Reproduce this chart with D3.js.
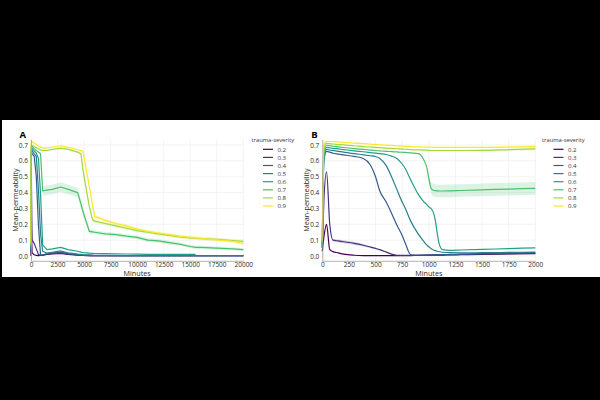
<!DOCTYPE html>
<html>
<head>
<meta charset="utf-8">
<script src="https://cdn.jsdelivr.net/npm/d3@7"></script>
<style>
body { margin: 0; background: #000; }
svg { display: block; font-family: "Open Sans", sans-serif; }
</style>
</head>
<body>
<script>
(function(){
    // ---- data, panel A (minutes 0..20000) ----
    var tA = [0, 30, 100, 300, 500, 700, 900, 1100, 1500, 2000, 2800, 3500, 4400, 4700, 4900, 5500,
              5800, 6000, 7000, 8000, 9000, 10000, 11000, 12000, 13000, 14000, 15000, 15500, 16000, 17500, 19000, 20000];
    var a02 = [0.0, 0.2, 0.02, 0.008, 0.004, 0.003, 0.004, 0.006, 0.01, 0.013, 0.016, 0.011, 0.006, 0.005, 0.004, 0.003,
               0.003, 0.003, 0.002, 0.002, 0.002, 0.002, 0.002, 0.002, 0.002, 0.002, 0.002, 0.002, 0.002, 0.002, 0.002, 0.002];
    var a03 = [0.02, 0.53, 0.1, 0.08, 0.045, 0.01, 0.004, 0.006, 0.012, 0.016, 0.02, 0.013, 0.007, 0.005, 0.004, 0.003,
               0.003, 0.003, 0.002, 0.002, 0.002, 0.002, 0.002, 0.002, 0.002, 0.002, 0.002, 0.002, 0.002, 0.002, 0.002, 0.002];
    var a04 = [0.03, 0.66, 0.645, 0.628, 0.5, 0.195, 0.006, 0.008, 0.014, 0.02, 0.025, 0.015, 0.008, 0.006, 0.005, 0.004,
               0.003, 0.003, 0.002, 0.002, 0.002, 0.002, 0.002, 0.002, 0.002, 0.002, 0.002, 0.002, 0.002, 0.002, 0.002, 0.002];
    var a05 = [0.04, 0.67, 0.665, 0.645, 0.627, 0.42, 0.14, 0.03, 0.018, 0.024, 0.032, 0.02, 0.012, 0.01, 0.009, 0.007,
               0.006, 0.005, 0.004, 0.003, 0.003, 0.002, 0.002, 0.002, 0.002, 0.002, 0.002, 0.002, 0.002, 0.002, 0.002, 0.002];
    var a06 = [0.05, 0.68, 0.679, 0.663, 0.648, 0.615, 0.39, 0.07, 0.04, 0.045, 0.055, 0.04, 0.03, 0.025, 0.022, 0.018,
               0.017, 0.016, 0.015, 0.014, 0.013, 0.012, 0.011, 0.01, 0.01, 0.01, 0.01, 0.01, null, null, null, null];
    var a07 = [0.06, 0.69, 0.692, 0.677, 0.665, 0.656, 0.645, 0.41, 0.415, 0.42, 0.435, 0.42, 0.40, 0.33, 0.28, 0.155,
               0.152, 0.15, 0.14, 0.135, 0.125, 0.118, 0.10, 0.095, 0.085, 0.075, 0.06, 0.055, 0.055, 0.05, 0.045, 0.04];
    var a08 = [0.07, 0.70, 0.698, 0.69, 0.683, 0.676, 0.669, 0.665, 0.666, 0.672, 0.68, 0.672, 0.655, 0.645, 0.54, 0.31,
               0.228, 0.22, 0.205, 0.19, 0.175, 0.16, 0.15, 0.14, 0.13, 0.12, 0.115, 0.112, 0.11, 0.105, 0.098, 0.092];
    var a09 = [0.08, 0.72, 0.72, 0.712, 0.703, 0.695, 0.688, 0.682, 0.682, 0.687, 0.695, 0.685, 0.67, 0.665, 0.66, 0.435,
               0.32, 0.25, 0.225, 0.205, 0.19, 0.17, 0.155, 0.145, 0.135, 0.125, 0.118, 0.115, 0.112, 0.102, 0.092, 0.08];
    var sdA07 = [0, 0, 0, 0, 0, 0, 0.005, 0.03, 0.03, 0.03, 0.03, 0.03, 0.03, 0.03, 0.03, 0.015,
                 0.013, 0.012, 0.012, 0.012, 0.012, 0.012, 0.012, 0.012, 0.012, 0.01, 0.01, 0.01, 0.01, 0.01, 0.01, 0.008];
    var sdA89 = [0, 0, 0, 0, 0, 0, 0, 0, 0, 0, 0.004, 0.004, 0.004, 0.004, 0.006, 0.008,
                 0.01, 0.01, 0.01, 0.01, 0.01, 0.01, 0.01, 0.01, 0.01, 0.01, 0.01, 0.01, 0.01, 0.01, 0.01, 0.01];

    // ---- data, panel B (minutes 0..2000) ----
    var tB = [0, 15, 40, 70, 100, 150, 200, 300, 385, 450, 500, 540, 600, 650, 700, 750, 780,
              830, 900, 950, 980, 1000, 1020, 1040, 1060, 1080, 1100, 1130, 1200, 1300, 1500, 1750, 2000];
    var b02 = [0.03, 0.12, 0.2, 0.04, 0.028, 0.02, 0.012, 0.005, 0.003, 0.003, 0.003, 0.003, 0.003, 0.003, 0.003, 0.003, 0.003,
               0.003, 0.004, 0.004, 0.005, 0.005, 0.005, 0.005, 0.005, 0.006, 0.006, 0.006, 0.007, 0.008, 0.01, 0.013, 0.015];
    var b03 = [0.05, 0.35, 0.53, 0.2, 0.1, 0.095, 0.09, 0.08, 0.068, 0.057, 0.048, 0.04, 0.025, 0.012, 0.005, 0.004, 0.004,
               0.004, 0.005, 0.005, 0.006, 0.006, 0.006, 0.007, 0.007, 0.007, 0.008, 0.008, 0.009, 0.01, 0.012, 0.015, 0.018];
    var b04 = [0.05, 0.6, 0.66, 0.655, 0.648, 0.642, 0.637, 0.628, 0.615, 0.575, 0.5, 0.41, 0.34, 0.27, 0.195, 0.13, 0.08,
               0.008, 0.005, 0.006, 0.006, 0.007, 0.007, 0.007, 0.008, 0.008, 0.008, 0.009, 0.01, 0.012, 0.015, 0.018, 0.022];
    var b05 = [0.06, 0.62, 0.672, 0.668, 0.665, 0.66, 0.655, 0.645, 0.638, 0.632, 0.627, 0.615, 0.57, 0.5, 0.42, 0.34, 0.3,
               0.22, 0.14, 0.095, 0.07, 0.058, 0.048, 0.04, 0.034, 0.03, 0.027, 0.024, 0.021, 0.02, 0.021, 0.023, 0.025];
    var b06 = [0.07, 0.64, 0.685, 0.682, 0.679, 0.675, 0.671, 0.663, 0.657, 0.652, 0.648, 0.645, 0.64, 0.63, 0.615, 0.58, 0.55,
               0.48, 0.39, 0.345, 0.325, 0.31, 0.3, 0.28, 0.23, 0.14, 0.07, 0.04, 0.036, 0.038, 0.042, 0.047, 0.052];
    var b07 = [0.08, 0.66, 0.698, 0.695, 0.692, 0.688, 0.684, 0.677, 0.672, 0.668, 0.665, 0.663, 0.66, 0.658, 0.656, 0.654, 0.653,
               0.65, 0.645, 0.61, 0.56, 0.49, 0.43, 0.415, 0.412, 0.411, 0.41, 0.41, 0.411, 0.413, 0.417, 0.422, 0.427];
    var b08 = [0.09, 0.68, 0.71, 0.708, 0.706, 0.703, 0.7, 0.695, 0.69, 0.687, 0.685, 0.683, 0.68, 0.678, 0.676, 0.674, 0.673,
               0.671, 0.669, 0.668, 0.667, 0.666, 0.665, 0.665, 0.665, 0.665, 0.665, 0.665, 0.665, 0.665, 0.666, 0.67, 0.675];
    var b09 = [0.1, 0.7, 0.723, 0.722, 0.721, 0.719, 0.717, 0.712, 0.708, 0.705, 0.703, 0.701, 0.699, 0.697, 0.695, 0.693, 0.692,
               0.69, 0.688, 0.687, 0.686, 0.686, 0.686, 0.685, 0.685, 0.685, 0.685, 0.685, 0.685, 0.685, 0.685, 0.687, 0.69];
    var sdB03 = [0, 0, 0, 0, 0.008, 0.01, 0.01, 0.01, 0.008, 0.006, 0.005, 0.004, 0.003, 0, 0, 0, 0,
                 0, 0, 0, 0, 0, 0, 0, 0, 0, 0, 0, 0, 0, 0, 0, 0];
    var sdB07 = [0, 0, 0, 0, 0, 0, 0, 0, 0, 0, 0, 0, 0, 0, 0, 0, 0,
                 0, 0, 0, 0.005, 0.02, 0.035, 0.04, 0.04, 0.04, 0.04, 0.04, 0.04, 0.04, 0.04, 0.04, 0.04];
    var sdB89 = [0, 0, 0, 0, 0, 0, 0, 0, 0, 0, 0, 0, 0, 0, 0, 0, 0,
                 0, 0, 0, 0, 0, 0, 0, 0, 0, 0, 0, 0.002, 0.003, 0.004, 0.006, 0.008];

    var severities = ["0.2", "0.3", "0.4", "0.5", "0.6", "0.7", "0.8", "0.9"];
    var yTicks = [0, 0.1, 0.2, 0.3, 0.4, 0.5, 0.6, 0.7];
    var xTicksA = [0, 2500, 5000, 7500, 10000, 12500, 15000, 17500, 20000];
    var xTicksB = [0, 250, 500, 750, 1000, 1250, 1500, 1750, 2000];

    var svgWidth = 600, svgHeight = 400;
    var svg = d3.select("body").append("svg")
        .attr("width", svgWidth).attr("height", svgHeight);

    svg.append("rect").attr("width", svgWidth).attr("height", svgHeight).attr("fill", "#000");
    svg.append("rect").attr("x", 2).attr("y", 120)
        .attr("width", 598).attr("height", 157).attr("fill", "#fff");

    var color = d3.scaleOrdinal().domain(severities)
        .range(severities.map(function (s, i) { return d3.interpolateViridis(i / 7); }));

    var y = d3.scaleLinear().domain([-0.03, 0.735]).range([260.8, 139.4]);

    function drawPanel(p) {
        var x = d3.scaleLinear().domain(p.domain).range(p.range);
        var g = svg.append("g");

        // faint grid
        g.selectAll("line.vgrid").data(p.xTicks).enter().append("line")
            .attr("x1", function (d) { return x(d); }).attr("x2", function (d) { return x(d); })
            .attr("y1", y.range()[1]).attr("y2", y.range()[0])
            .attr("stroke", "#f0f0f0").attr("stroke-width", 0.8);
        g.selectAll("line.hgrid").data(yTicks).enter().append("line")
            .attr("x1", p.range[0]).attr("x2", p.range[1])
            .attr("y1", function (d) { return y(d); }).attr("y2", function (d) { return y(d); })
            .attr("stroke", "#f0f0f0").attr("stroke-width", 0.8);

        // confidence bands
        p.bands.forEach(function (b) {
            var vals = p.series[severities.indexOf(b.key)];
            var pts = p.times.map(function (t, i) { return [t, vals[i], b.sd[i]]; });
            var area = d3.area()
                .defined(function (d) { return d[1] != null && d[2] > 0; })
                .x(function (d) { return x(d[0]); })
                .y0(function (d) { return y(d[1] - d[2]); })
                .y1(function (d) { return y(d[1] + d[2]); });
            g.append("path").datum(pts).attr("d", area)
                .attr("fill", color(b.key)).attr("fill-opacity", 0.2);
        });

        // mean lines
        var line = d3.line()
            .defined(function (d) { return d[1] != null; })
            .x(function (d) { return x(d[0]); })
            .y(function (d) { return y(d[1]); })
            .curve(p.curve);
        p.series.forEach(function (vals, k) {
            var pts = p.times.map(function (t, i) { return [t, vals[i]]; });
            g.append("path").datum(pts).attr("d", line)
                .attr("fill", "none").attr("stroke", color(severities[k]))
                .attr("stroke-width", 1.2).attr("stroke-linejoin", "round");
        });

        // axes
        var xAxis = g.append("g").attr("transform", "translate(0," + y.range()[0] + ")")
            .call(d3.axisBottom(x).tickValues(p.xTicks).tickSize(0).tickPadding(1.5).tickFormat(d3.format("d")));
        var yAxis = g.append("g").attr("transform", "translate(" + p.range[0] + ",0)")
            .call(d3.axisLeft(y).tickValues(yTicks).tickSize(0).tickPadding(3).tickFormat(d3.format(".1f")));
        [xAxis, yAxis].forEach(function (a) {
            a.select(".domain").attr("stroke", "#a0a0a0").attr("stroke-width", 0.8);
            a.selectAll("text").attr("font-family", "Open Sans").attr("font-size", 6.5).attr("fill", "#2b2b2b");
        });

        g.append("text").attr("x", (p.range[0] + p.range[1]) / 2).attr("y", 275.5)
            .attr("text-anchor", "middle").attr("font-size", 7.2).attr("fill", "#2b2b2b")
            .text("Minutes");
        g.append("text").attr("transform", "translate(" + (p.range[0] - 13.3) + ",200) rotate(-90)")
            .attr("text-anchor", "middle").attr("font-size", 7.2).attr("fill", "#2b2b2b")
            .text("Mean-permeability");
        g.append("text").attr("x", p.letterX).attr("y", 137.8)
            .attr("font-size", 9.5).attr("font-weight", "bold").attr("fill", "#000")
            .text(p.letter);

        // legend
        var lg = g.append("g").attr("transform", "translate(" + p.legendX + ",0)");
        lg.append("text").attr("x", 0).attr("y", 142.4)
            .attr("font-size", 5.8).attr("fill", "#333").text("trauma-severity");
        var items = lg.selectAll("g.item").data(severities).enter().append("g")
            .attr("transform", function (d, i) { return "translate(0," + (149.3 + 8.1 * i) + ")"; });
        items.append("line").attr("x1", 11.5).attr("x2", 21.5)
            .attr("stroke", function (d) { return color(d); }).attr("stroke-width", 1.2);
        items.append("text").attr("x", 26).attr("y", 2.2)
            .attr("font-size", 6.1).attr("fill", "#333").text(function (d) { return d; });
    }

    drawPanel({
        domain: [0, 20000], range: [31, 243.3], xTicks: xTicksA, times: tA,
        series: [a02, a03, a04, a05, a06, a07, a08, a09],
        bands: [{key: "0.7", sd: sdA07}, {key: "0.8", sd: sdA89}, {key: "0.9", sd: sdA89}],
        curve: d3.curveLinear, letter: "A", letterX: 19.5, legendX: 251.5
    });
    drawPanel({
        domain: [0, 2000], range: [322.3, 535.3], xTicks: xTicksB, times: tB,
        series: [b02, b03, b04, b05, b06, b07, b08, b09],
        bands: [{key: "0.3", sd: sdB03}, {key: "0.7", sd: sdB07}, {key: "0.8", sd: sdB89}, {key: "0.9", sd: sdB89}],
        curve: d3.curveMonotoneX, letter: "B", letterX: 311.3, legendX: 542
    });
})();
</script>
</body>
</html>
